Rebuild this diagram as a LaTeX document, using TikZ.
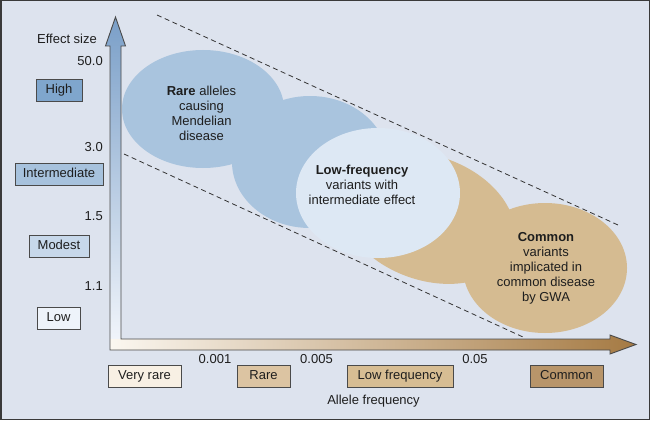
\documentclass[tikz,border=0pt]{standalone}
\usepackage{fontspec}
\setmainfont{Liberation Sans}
\definecolor{bg}{HTML}{DDE3EE}
\definecolor{blobblue}{HTML}{A9C4DE}
\definecolor{blobtan}{HTML}{D5BB91}
\definecolor{blobpale}{HTML}{DDE8F4}
\definecolor{txt}{HTML}{1E1E1E}
\definecolor{boxline}{HTML}{4A4A4A}
\definecolor{chigh}{HTML}{7FA6CD}
\definecolor{cinter}{HTML}{A7C2DD}
\definecolor{cmod}{HTML}{C7D8EA}
\definecolor{clow}{HTML}{EEF3FA}
\definecolor{cvrare}{HTML}{F8F0E4}
\definecolor{crare}{HTML}{DCC4A2}
\definecolor{clowf}{HTML}{D7BD93}
\definecolor{ccom}{HTML}{B8956A}
\definecolor{vtop}{HTML}{7A9FC8}
\definecolor{vbot}{HTML}{F4F7FC}
\definecolor{hleft}{HTML}{FBF7F0}
\definecolor{hright}{HTML}{A57A43}
\definecolor{guidec}{HTML}{333333}
\definecolor{framec}{HTML}{3A3A3A}
\begin{document}
\begin{tikzpicture}[x=1pt,y=-1pt,
  lbl/.style={font=\fontsize{13}{15}\selectfont, text=txt, inner sep=0pt},
  tick/.style={lbl, anchor=east},
  box/.style={lbl, draw=boxline, line width=0.9pt, minimum height=22pt,
    text height=9.4pt, text depth=2.7pt},
  blob/.style={lbl, align=center},
  guide/.style={draw=guidec, line width=0.8pt, dash pattern=on 5pt off 3.5pt},
  arrowline/.style={draw=boxline, line width=0.9pt, line join=miter},
]
\useasboundingbox (0,0) rectangle (650,420);
\fill[bg] (0,0) rectangle (650,420);

% bubbles
\fill[blobblue] (203,109) ellipse [x radius=81pt, y radius=59pt];
\fill[blobblue] (310,162) ellipse [x radius=78pt, y radius=66pt];
\fill[blobtan, rotate around={-20:(428,218)}] (428,218) ellipse [x radius=90pt, y radius=62pt];
\fill[blobtan] (545,268) ellipse [x radius=82pt, y radius=65pt];
\fill[blobpale] (378,193) ellipse [x radius=82pt, y radius=65pt];

% guide lines
\coordinate (u1) at (157,15);
\coordinate (u2) at (618,225);
\coordinate (l1) at (124,154);
\coordinate (l2) at (523,337);
\draw[guide] (u1) -- (u2);
\draw[guide] (l1) -- (l2);

% axes
\shade[top color=vtop, bottom color=vbot]
  (110,350) -- (110,46) -- (105.5,46) -- (115.5,17) -- (125.5,46) -- (121,46) -- (121,350) -- cycle;
\shade[left color=hleft, right color=hright]
  (110,339) -- (610,339) -- (610,335) -- (636,344.5) -- (610,354) -- (610,350) -- (110,350) -- cycle;
\draw[arrowline]
  (110,350) -- (110,46) -- (105.5,46) -- (115.5,17) -- (125.5,46) -- (121,46) -- (121,339)
  -- (610,339) -- (610,335) -- (636,344.5) -- (610,354) -- (610,350) -- cycle;

% bubble texts
\node[blob] (raretxt) at (201.5,113.5) {\textbf{Rare} alleles\\causing\\Mendelian\\disease};
\node[blob] (lowftxt) at (362,184.5) {\textbf{Low-frequency}\\variants with\\intermediate effect};
\node[blob] (comtxt) at (546,268) {\textbf{Common}\\variants\\implicated in\\common disease\\by GWA};

% y axis labels
\node[lbl] (effect) at (67,39) {Effect size};
\node[tick] (t50) at (103,61) {50.0};
\node[tick] (t30) at (103,147) {3.0};
\node[tick] (t15) at (103,216.5) {1.5};
\node[tick] (t11) at (103,286.5) {1.1};
\node[box, fill=chigh, minimum width=46pt] (high) at (59,90.5) {High};
\node[box, fill=cinter, minimum width=88pt] (inter) at (59,174) {Intermediate};
\node[box, fill=cmod, minimum width=60pt] (modest) at (59,246.5) {Modest};
\node[box, fill=clow, minimum width=43pt] (low) at (58.5,318) {Low};

% x axis labels
\node[lbl] (x001) at (215,359.5) {0.001};
\node[lbl] (x005) at (316.5,359.5) {0.005};
\node[lbl] (x05) at (475,359.5) {0.05};
\node[box, fill=cvrare, minimum width=73pt] (vrare) at (144.5,376) {Very rare};
\node[box, fill=crare, minimum width=53pt] (rare) at (263.5,376) {Rare};
\node[box, fill=clowf, minimum width=106pt] (lowf) at (400,376) {Low frequency};
\node[box, fill=ccom, minimum width=73pt] (common) at (566.5,376) {Common};
\node[lbl] (allele) at (373.5,401) {Allele frequency};

% frame
\draw[framec, line width=1.5pt] (0.75,0.75) rectangle (649.25,419.25);
\end{tikzpicture}
\end{document}
